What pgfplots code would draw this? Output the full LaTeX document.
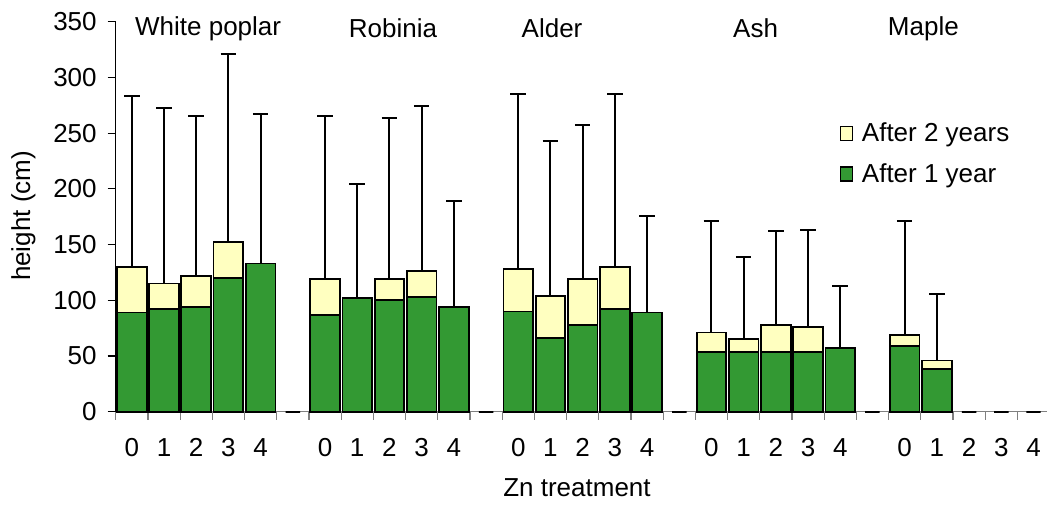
\documentclass[border=0pt]{standalone}
\usepackage{fontspec}
\setmainfont{Liberation Sans}
\usepackage{pgfplots}
\usepackage{pgfplotstable}
\pgfplotsset{compat=1.18}
\definecolor{barGreen}{RGB}{51,153,51}
\definecolor{barYellow}{RGB}{255,255,192}

% After 2 years (total height) and upper error
\pgfplotstableread{
x two err
0 130 153
1 115 157.5
2 122 143
3 152 169
4 133 134
6 119 146
7 102 102
8 119 144.5
9 126 148
10 94 95
12 128 157
13 104 139
14 119 138.5
15 130 155
16 89 87
18 71 100
19 65 74
20 78 84
21 76 87
22 57.5 55.5
24 69 102
25 46 60
}\yeartwo

% After 1 year
\pgfplotstableread{
x one
0 89
1 92
2 94
3 120
4 133
6 87
7 102
8 100
9 103
10 94
12 90
13 66
14 77.5
15 92.5
16 89
18 53.5
19 53.5
20 53.5
21 53.5
22 57.5
24 59
25 38.5
}\yearone

% empty slots (zero height)
\pgfplotstableread{
x zero
5 0
11 0
17 0
23 0
26 0
27 0
28 0
}\zeros

\begin{document}
\begin{tikzpicture}[font=\fontsize{13}{15.6}\selectfont]
\begin{axis}[
  scale only axis, width=465.65pt, height=195pt,
  anchor=south west, at={(0,0)},
  xmin=-0.5, xmax=28.42, ymin=0, ymax=350,
  axis x line*=bottom, axis y line*=left,
  x axis line style={-, draw=gray, line width=0.6pt},
  y axis line style={-, draw=black, line width=0.6pt},
  /pgf/number format/assume math mode=true,
  tick label style={font=\fontsize{13}{15.6}\selectfont},
  ytick={0,50,...,350},
  xtick={-0.5,0.5,...,27.5},
  xticklabels={0,1,2,3,4,{},0,1,2,3,4,{},0,1,2,3,4,{},0,1,2,3,4,{},0,1,2,3,4},
  xticklabel style={xshift=8.05pt, yshift=-6pt},
  yticklabel style={xshift=-2pt},
  tick align=outside, major tick length=4pt,
  x tick style={draw=gray, line width=0.6pt},
  y tick style={draw=black, line width=0.6pt},
  ybar, bar width=0.92,
  clip=false,
  xlabel={Zn treatment},
  xlabel style={at={(0.4953,-0.1956)}, anchor=center},
  ylabel={height (cm)},
  ylabel style={at={(-0.099,0.502)}, anchor=center},
  legend style={draw=none, fill=none, inner sep=0pt, outer sep=0pt,
    at={(axis cs:21.98,231.5)}, anchor=west, row sep=9.5pt,
    nodes={inner xsep=4.25pt, inner ysep=0pt},
    font=\fontsize{13}{15.6}\selectfont},
  legend cell align=left,
  mylegend/.style={legend image code/.code={\draw[##1, line width=0.7pt] (0pt,-3.5pt) rectangle (6.2pt,3.5pt);}},
]
\addplot[bar shift=0pt, fill=barYellow, draw=black, line width=0.9pt, mylegend,
  error bars/.cd, y dir=plus, y explicit,
  error bar style={line width=1pt, black},
  error mark options={rotate=90, line width=1pt, black, mark size=3.9pt}]
  table[x=x, y=two, y error=err] {\yeartwo};
\addlegendentry{After 2 years}
\addplot[bar shift=0pt, fill=barGreen, draw=black, line width=0.9pt, mylegend]
  table[x=x, y=one] {\yearone};
\addlegendentry{After 1 year}
\addplot[bar shift=0pt, bar width=0.45, fill=black, draw=black, line width=1pt, forget plot]
  table[x=x, y=zero] {\zeros};

\node at (axis cs:2.37,344) {White poplar};
\node at (axis cs:8.11,344) {Robinia};
\node at (axis cs:13.05,344) {Alder};
\node at (axis cs:19.37,344) {Ash};
\node at (axis cs:24.58,344) {Maple};
\end{axis}
\pgfresetboundingbox
\path (-57.85pt,-46.15pt) rectangle (465.65pt,205.85pt);
\end{tikzpicture}
\end{document}
